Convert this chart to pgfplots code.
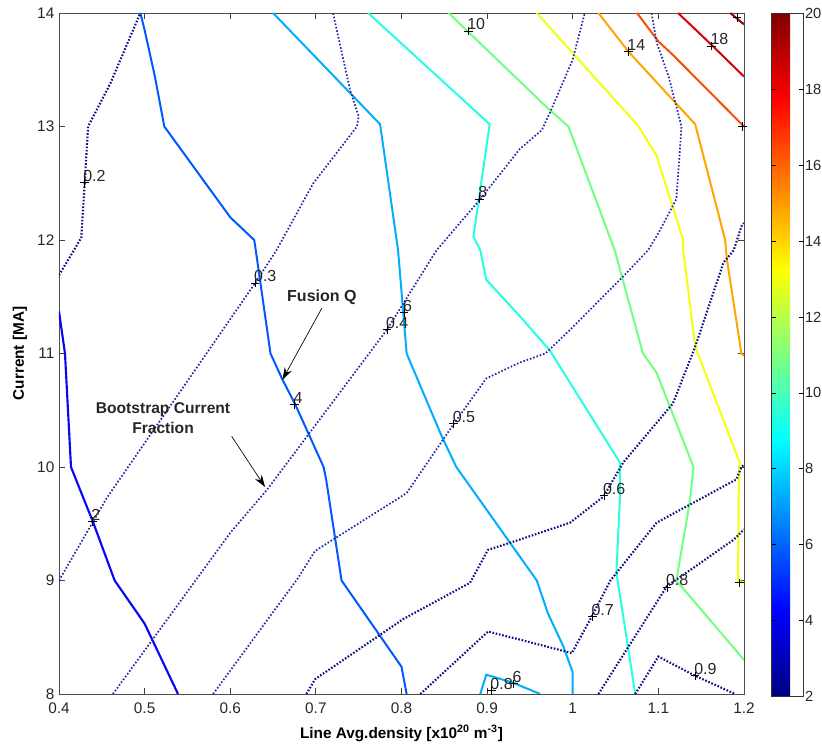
\documentclass[border=0pt]{standalone}
\usepackage{fontspec}
\setmainfont{Liberation Sans}
\usepackage{pgfplots}
\pgfplotsset{compat=1.18}
\usetikzlibrary{arrows.meta}
\pgfplotsset{/pgf/number format/assume math mode=true}

\definecolor{qa}{rgb}{0.03,0.03,0.95}
\definecolor{qb}{rgb}{0,0.35,1}
\definecolor{qc}{rgb}{0,0.68,1}
\definecolor{qd}{rgb}{0.15,1,0.88}
\definecolor{qe}{rgb}{0.45,1,0.5}
\definecolor{qf}{rgb}{0.95,1,0.05}
\definecolor{qg}{rgb}{1,0.65,0}
\definecolor{qh}{rgb}{1,0.3,0}
\definecolor{qi}{rgb}{0.85,0,0.05}
\definecolor{qj}{rgb}{0.6,0,0}
\definecolor{bsa}{rgb}{0.06,0.06,0.52}
\definecolor{bsb}{rgb}{0.15,0.15,0.68}

\begin{document}
\begin{tikzpicture}
\begin{axis}[
  at={(0pt,0pt)}, anchor=south west,
  scale only axis, width=513.75pt, height=510.75pt,
  xmin=0.4, xmax=1.2, ymin=8, ymax=14,
  xtick={0.4,0.5,0.6,0.7,0.8,0.9,1,1.1,1.2},
  ytick={8,9,10,11,12,13,14},
  tick align=inside, xtick pos=both, ytick pos=both,
  major tick length=4.5pt,
  axis line style={draw=black!70, line width=0.7pt},
  every tick/.style={draw=black!75, line width=0.6pt},
  ticklabel style={font=\fontsize{11.5}{13}\selectfont, text=black!85},
  xticklabel style={yshift=-3pt},
  xlabel={Line Avg.density [x10\textsuperscript{20} m\textsuperscript{-3}]},
  ylabel={Current [MA]},
  xlabel style={at={(axis description cs:0.5,-0.0578)}, anchor=center, font=\bfseries\fontsize{11.5}{13}\selectfont},
  ylabel style={at={(axis description cs:-0.0569,0.5)}, anchor=center, font=\bfseries\fontsize{11.5}{13}\selectfont},
  colorbar,
  colormap/jet,
  point meta min=2, point meta max=20,
  colorbar style={
    scale only axis,
    width=24.2pt, height=512pt,
    at={(parent axis.north east)}, anchor=north west,
    xshift=11.75pt, yshift=-0.5pt,
    ytick={2,4,6,8,10,12,14,16,18,20},
    ytick pos=both, yticklabel pos=right,
    tick align=inside,
    major tick length=3.5pt,
    every tick/.style={draw=black, line width=0.6pt},
    axis line style={draw=black!80, line width=0.6pt},
    yticklabel style={font=\fontsize{11}{13}\selectfont, xshift=-2.2pt, text=black!85},
  },
]
% ---------- Fusion Q contours ----------
\addplot[qa, line width=1.6pt, no marks] coordinates {
(0.4,11.37) (0.407,11.0) (0.414,10.0) (0.44,9.51) (0.465,9.0) (0.5,8.62) (0.539,8.0)};
\addplot[qb, line width=1.5pt, no marks] coordinates {
(0.495,14) (0.5,13.85) (0.512,13.44) (0.523,13.0) (0.6,12.2) (0.628,12.0) (0.63,11.9)
(0.647,11.0) (0.661,10.77) (0.676,10.55) (0.709,10.0) (0.712,9.89) (0.73,9.0) (0.8,8.24) (0.806,8.0)};
\addplot[qc, line width=1.5pt, no marks] coordinates {
(0.65,14) (0.775,13.02) (0.796,11.91) (0.806,11.0) (0.847,10.27) (0.864,10.0)
(0.958,9.0) (0.971,8.71) (0.989,8.42) (1.0,8.19) (1.0,8.0)};
\addplot[qc, line width=1.5pt, no marks] coordinates {
(0.892,8.0) (0.899,8.17) (0.93,8.10) (0.962,8.0)};
\addplot[qd, line width=1.5pt, no marks] coordinates {
(0.761,14) (0.903,13.02) (0.884,12.03) (0.892,11.91) (0.899,11.65) (0.938,11.33)
(0.973,11.03) (1.055,10.04) (1.055,9.71) (1.051,9.07) (1.073,8.0)};
\addplot[qe, line width=1.5pt, no marks] coordinates {
(0.855,14) (0.971,13.16) (0.995,13.0) (1.049,11.91) (1.082,11.0) (1.098,10.83)
(1.141,10.0) (1.137,9.71) (1.121,9.0) (1.2,8.3)};
\addplot[qf, line width=1.5pt, no marks] coordinates {
(0.958,14) (1.077,13.0) (1.098,12.74) (1.129,12.0) (1.129,11.91) (1.143,11.06)
(1.195,10.04) (1.194,9.89) (1.193,9.0) (1.2,8.98)};
\addplot[qg, line width=1.5pt, no marks] coordinates {
(1.03,14) (1.065,13.66) (1.143,13.02) (1.178,12.0) (1.18,11.83) (1.197,11.0) (1.2,10.98)};
\addplot[qh, line width=1.5pt, no marks] coordinates {
(1.075,14) (1.1,13.75) (1.117,13.63) (1.2,13.0)};
\addplot[qi, line width=1.5pt, no marks] coordinates {
(1.123,14) (1.162,13.72) (1.2,13.44)};
\addplot[qj, line width=1.5pt, no marks] coordinates {
(1.184,14) (1.2,13.9)};
% ---------- Bootstrap current fraction contours ----------
\addplot[bsa, line width=1.6pt, dash pattern=on 1.2pt off 1.3pt, no marks] coordinates {
(0.4,11.69) (0.419,11.93) (0.426,12.02) (0.43,12.5) (0.434,13.0) (0.46,13.38) (0.495,14)};
\addplot[bsb, line width=1.3pt, dash pattern=on 1.2pt off 1.4pt, no marks] coordinates {
(0.4,9.0) (0.456,9.73) (0.629,11.62) (0.654,11.91) (0.697,12.5) (0.748,13.0) (0.75,13.09) (0.74,13.32) (0.72,14)};
\addplot[bsb, line width=1.3pt, dash pattern=on 1.2pt off 1.4pt, no marks] coordinates {
(0.463,8.0) (0.6,9.42) (0.643,9.8) (0.783,11.21) (0.841,11.91) (0.892,12.36) (0.938,12.8)
(0.964,12.97) (0.975,13.15) (1.0,13.59) (1.014,14)};
\addplot[bsb, line width=1.3pt, dash pattern=on 1.2pt off 1.4pt, no marks] coordinates {
(0.58,8.0) (0.679,9.02) (0.699,9.26) (0.806,9.77) (0.862,10.39) (0.899,10.78) (0.938,10.92)
(0.968,11.0) (0.997,11.21) (1.059,11.68) (1.088,11.91) (1.1,12.06) (1.121,12.36) (1.127,13.0)
(1.112,13.44) (1.098,13.74) (1.092,14)};
\addplot[bsa, line width=1.6pt, dash pattern=on 1.2pt off 1.3pt, no marks] coordinates {
(0.689,8.0) (0.699,8.13) (0.802,8.66) (0.88,8.98) (0.901,9.27) (0.938,9.36) (0.997,9.51)
(1.036,9.74) (1.059,10.04) (1.117,10.56) (1.143,11.06) (1.176,11.8) (1.188,11.91) (1.197,12.12) (1.2,12.15)};
\addplot[bsa, line width=1.6pt, dash pattern=on 1.2pt off 1.3pt, no marks] coordinates {
(0.822,8.0) (0.901,8.55) (0.938,8.48) (0.999,8.36) (1.022,8.68) (1.044,9.0) (1.098,9.51)
(1.191,9.89) (1.197,10.0) (1.2,10.02)};
\addplot[bsa, line width=1.6pt, dash pattern=on 1.2pt off 1.3pt, no marks] coordinates {
(1.03,8.0) (1.11,8.95) (1.133,9.07) (1.188,9.36) (1.2,9.45)};
\addplot[bsa, line width=1.6pt, dash pattern=on 1.2pt off 1.3pt, no marks] coordinates {
(1.073,8.0) (1.1,8.33) (1.143,8.16) (1.184,8.02) (1.19,8.0)};
% ---------- contour labels ----------
\addplot[only marks, mark=+, mark size=3.2pt, black, mark options={line width=0.6pt},
  nodes near coords, point meta=explicit symbolic,
  every node near coord/.append style={anchor=base west, inner sep=0pt, xshift=-1pt, yshift=1pt,
    font=\fontsize{12}{14}\selectfont, text=black!85}]
  table[meta=lab] {
x y lab
0.4295 12.507 0.2
0.629 11.62 0.3
0.783 11.21 0.4
0.803 11.36 6
0.675 10.55 4
0.861 10.38 0.5
0.439 9.52 2
0.878 13.84 10
0.891 12.36 8
1.065 13.66 14
1.162 13.71 18
1.0365 9.75 0.6
1.023 8.68 0.7
1.11 8.94 0.8
1.143 8.16 0.9
0.931 8.09 6
0.905 8.03 0.8
};
\addplot[only marks, mark=+, mark size=3.2pt, black, mark options={line width=0.6pt}] coordinates {
(1.192,13.96) (1.198,13.0) (1.195,8.98)};
% ---------- annotations ----------
\node[font=\bfseries\fontsize{12}{14}\selectfont, text=black!85] at (axis cs:0.707,11.494) {Fusion Q};
\draw[black, line width=0.5pt, -{Stealth[length=9pt,width=6pt]}] (axis cs:0.707,11.40) -- (axis cs:0.661,10.77);
\node[font=\bfseries\fontsize{11.7}{15}\selectfont, text=black!85, align=center] at (axis cs:0.5215,10.434) {Bootstrap Current\\Fraction};
\draw[black, line width=0.5pt, -{Stealth[length=9pt,width=6pt]}] (axis cs:0.6017,10.27) -- (axis cs:0.6406,9.824);
\end{axis}
\pgfresetboundingbox
\useasboundingbox (-44.25pt,-39pt) rectangle (572.25pt,520.5pt);
\end{tikzpicture}
\end{document}
